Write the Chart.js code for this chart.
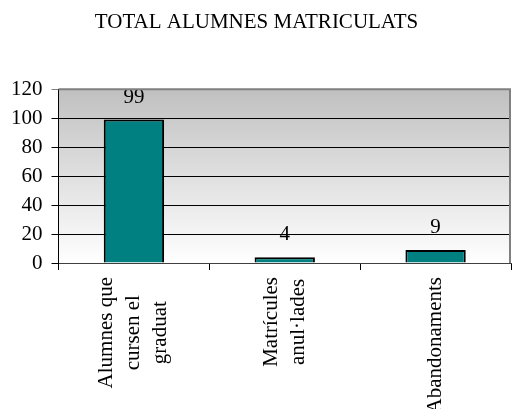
<!DOCTYPE html>
<html>
<head>
<meta charset="utf-8">
<script src="https://cdn.jsdelivr.net/npm/chart.js@4"></script>
<style>
  html, body { margin: 0; padding: 0; background: #ffffff; }
  #wrap { width: 512px; height: 409px; }
</style>
</head>
<body>
<div id="wrap"><canvas id="myChart"></canvas></div>
<script>
const categories = [
  ["Alumnes que", "cursen el", "graduat"],
  ["Matrícules", "anul·lades"],
  ["Abandonaments"],
];
const values = [99, 4, 9];
const yTicks = [0, 20, 40, 60, 80, 100, 120];

const FONT = "'Liberation Serif', 'Times New Roman', serif";

// gray gradient behind the plot
const plotBackground = {
  id: "plotBackground",
  beforeDraw(chart) {
    const { ctx, chartArea: a } = chart;
    const g = ctx.createLinearGradient(0, a.top, 0, a.bottom);
    g.addColorStop(0, "#c0c0c0");
    g.addColorStop(1, "#ffffff");
    ctx.save();
    ctx.fillStyle = g;
    ctx.fillRect(a.left, a.top, a.right - a.left, a.bottom - a.top);
    ctx.restore();
  },
  afterDraw(chart) {
    const { ctx, chartArea: a } = chart;
    ctx.save();
    ctx.strokeStyle = "#808080";
    ctx.lineWidth = 2;
    ctx.beginPath();
    ctx.moveTo(a.left, a.top);
    ctx.lineTo(a.right - 1, a.top);
    ctx.lineTo(a.right - 1, a.bottom);
    ctx.stroke();
    ctx.restore();
  },
};

// value above each bar
const barValues = {
  id: "barValues",
  afterDatasetsDraw(chart) {
    const { ctx } = chart;
    const meta = chart.getDatasetMeta(0);
    ctx.save();
    ctx.font = "21px " + FONT;
    ctx.fillStyle = "#000";
    ctx.textAlign = "center";
    ctx.textBaseline = "alphabetic";
    meta.data.forEach((bar, i) => {
      ctx.fillText(String(values[i]), bar.x, bar.y - 17);
    });
    ctx.restore();
  },
};

// rotated, centred category labels
const catLabels = {
  id: "catLabels",
  afterDraw(chart) {
    const { ctx } = chart;
    const x = chart.scales.x;
    const top = x.bottom + 7;
    const lh = 27;
    ctx.save();
    ctx.font = "21px " + FONT;
    ctx.fillStyle = "#000";
    ctx.textAlign = "center";
    ctx.textBaseline = "middle";
    categories.forEach((lines, i) => {
      const cx = x.getPixelForValue(i);
      const w = Math.max(...lines.map((l) => ctx.measureText(l).width));
      const first = cx - ((lines.length - 1) * lh) / 2;
      lines.forEach((l, j) => {
        ctx.save();
        ctx.translate(first + j * lh, top + w / 2);
        ctx.rotate(-Math.PI / 2);
        ctx.fillText(l, 0, 0);
        ctx.restore();
      });
    });
    ctx.restore();
  },
};

document.addEventListener("DOMContentLoaded", function () {
  new Chart(document.getElementById("myChart"), {
    type: "bar",
    data: {
      labels: categories.map((c) => c.join(" ")),
      datasets: [
        {
          data: values,
          backgroundColor: "#008080",
          borderColor: "#000000",
          borderWidth: 2,
          barPercentage: 0.4,
          categoryPercentage: 1,
        },
      ],
    },
    options: {
      responsive: true,
      maintainAspectRatio: false,
      animation: false,
      layout: {
        padding: { left: 2, right: 1, top: 0, bottom: 139 },
      },
      plugins: {
        legend: { display: false },
        tooltip: { enabled: false },
        title: {
          display: true,
          text: "TOTAL ALUMNES MATRICULATS",
          color: "#000",
          font: { family: FONT, size: 21, weight: "normal" },
          padding: { top: 10, bottom: 54 },
        },
      },
      scales: {
        x: {
          offset: true,
          grid: {
            display: true,
            offset: true,
            drawOnChartArea: false,
            color: "#000",
            tickLength: 7,
          },
          border: { color: "#404040", width: 1 },
          ticks: { display: false },
        },
        y: {
          min: yTicks[0],
          max: yTicks[yTicks.length - 1],
          afterBuildTicks: (axis) => {
            axis.ticks = yTicks.map((v) => ({ value: v }));
          },
          grid: {
            color: (c) => (c.tick && c.tick.value === 120 ? "#808080" : "#000"),
            tickLength: 7,
          },
          border: { color: "#000", width: 1 },
          ticks: {
            color: "#000",
            padding: 9,
            font: { family: FONT, size: 21 },
          },
        },
      },
    },
    plugins: [plotBackground, barValues, catLabels],
  });
});
</script>
</body>
</html>
